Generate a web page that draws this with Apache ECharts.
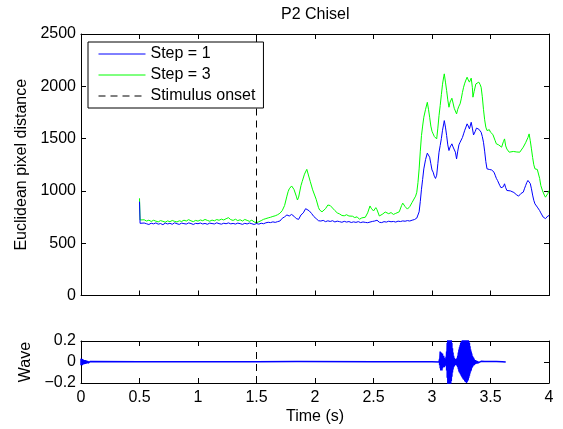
<!DOCTYPE html>
<html>
<head>
<meta charset="utf-8">
<script src="https://cdn.jsdelivr.net/npm/echarts@6/dist/echarts.min.js"></script>
<style>html,body{margin:0;padding:0;background:#fff}#c{width:563px;height:429px}</style>
</head>
<body>
<div id="c"></div>
<script>
// ---------- DATA ----------
const xTicks = [0, 0.5, 1, 1.5, 2, 2.5, 3, 3.5, 4];
const distTicks = [0, 500, 1000, 1500, 2000, 2500];
const waveTicks = [-0.2, 0, 0.2];
const stimulusOnset = 1.5;

// Step = 1 (blue): [time (s), distance]
const step1 = [
[0.5,897],[0.505,690],[0.52,684],[0.54,693],[0.56,686],[0.58,679],[0.60,691],[0.62,685],[0.64,694],[0.66,682],[0.68,688],[0.70,677],[0.72,692],[0.74,684],[0.76,690],[0.78,681],[0.80,695],[0.82,686],[0.84,680],[0.86,692],[0.88,687],[0.90,683],[0.92,694],[0.94,688],[0.96,679],[0.98,690],[1.00,686],[1.02,693],[1.04,684],[1.06,689],[1.08,681],[1.10,692],[1.12,688],[1.14,684],[1.16,695],[1.18,687],[1.20,682],[1.22,691],[1.24,686],[1.26,694],[1.28,685],[1.30,689],[1.32,683],[1.34,692],[1.36,687],[1.38,680],[1.40,690],[1.42,684],[1.44,693],[1.46,686],[1.48,679],[1.50,688],[1.52,682],[1.54,691],[1.56,686],[1.58,695],[1.60,700],[1.62,697],[1.64,704],[1.66,699],[1.68,706],[1.70,712],[1.72,738],[1.74,752],[1.76,770],[1.78,760],[1.80,775],[1.82,758],[1.84,735],[1.86,728],[1.88,770],[1.90,790],[1.92,830],[1.93,849],[1.95,810],[1.97,785],[1.99,755],[2.01,735],[2.03,715],[2.05,712],[2.07,718],[2.09,706],[2.11,714],[2.13,708],[2.15,715],[2.17,703],[2.19,711],[2.21,706],[2.23,700],[2.25,709],[2.27,702],[2.29,707],[2.31,698],[2.33,704],[2.35,699],[2.37,706],[2.39,697],[2.41,703],[2.43,699],[2.45,696],[2.47,702],[2.49,708],[2.51,712],[2.53,720],[2.55,700],[2.57,697],[2.59,706],[2.61,702],[2.63,710],[2.65,705],[2.67,708],[2.69,702],[2.71,711],[2.73,707],[2.75,713],[2.77,710],[2.79,716],[2.81,712],[2.83,720],[2.85,726],[2.87,740],[2.88,750],[2.89,800],[2.90,900],[2.91,1016],[2.92,1110],[2.93,1210],[2.945,1300],[2.96,1361],[2.97,1345],[2.98,1322],[2.99,1260],[3.00,1200],[3.01,1179],[3.02,1140],[3.03,1119],[3.04,1150],[3.05,1260],[3.06,1370],[3.07,1434],[3.08,1500],[3.09,1580],[3.10,1640],[3.105,1672],[3.115,1610],[3.125,1529],[3.135,1440],[3.145,1386],[3.155,1420],[3.17,1450],[3.18,1420],[3.19,1402],[3.20,1370],[3.21,1306],[3.22,1380],[3.23,1440],[3.24,1465],[3.25,1480],[3.26,1510],[3.27,1545],[3.28,1580],[3.29,1610],[3.30,1641],[3.31,1620],[3.32,1593],[3.335,1656],[3.345,1600],[3.355,1535],[3.36,1529],[3.37,1570],[3.38,1600],[3.39,1609],[3.40,1590],[3.41,1575],[3.42,1561],[3.43,1520],[3.44,1465],[3.45,1380],[3.46,1280],[3.47,1211],[3.48,1220],[3.49,1205],[3.50,1211],[3.51,1200],[3.52,1190],[3.53,1179],[3.54,1150],[3.55,1120],[3.56,1100],[3.57,1084],[3.58,1050],[3.59,1030],[3.60,1020],[3.61,1040],[3.62,1068],[3.63,1030],[3.64,1004],[3.655,995],[3.67,1000],[3.685,990],[3.70,985],[3.71,975],[3.72,965],[3.73,958],[3.74,950],[3.75,962],[3.76,975],[3.77,985],[3.78,988],[3.79,1020],[3.80,1050],[3.81,1080],[3.82,1100],[3.83,1107],[3.84,1070],[3.85,1020],[3.86,960],[3.87,910],[3.88,876],[3.89,860],[3.90,845],[3.91,830],[3.92,812],[3.93,790],[3.94,770],[3.95,750],[3.96,739],[3.97,735],[3.98,750],[3.99,760],[4.00,764]
];

// Step = 3 (green): [time (s), distance]
const step3 = [
[0.5,929],[0.505,722],[0.52,716],[0.54,724],[0.56,712],[0.58,720],[0.60,708],[0.62,719],[0.64,711],[0.66,704],[0.68,716],[0.70,709],[0.72,701],[0.74,713],[0.76,706],[0.78,717],[0.80,709],[0.82,703],[0.84,714],[0.86,708],[0.88,720],[0.90,712],[0.92,725],[0.94,714],[0.96,706],[0.98,718],[1.00,711],[1.02,722],[1.04,715],[1.06,727],[1.08,718],[1.10,710],[1.12,721],[1.14,714],[1.16,726],[1.18,719],[1.20,730],[1.22,722],[1.24,734],[1.26,744],[1.27,738],[1.28,725],[1.30,718],[1.32,729],[1.34,716],[1.36,724],[1.38,712],[1.40,727],[1.42,718],[1.44,709],[1.46,720],[1.48,703],[1.50,696],[1.52,705],[1.54,716],[1.56,728],[1.58,735],[1.60,742],[1.62,748],[1.64,756],[1.66,762],[1.68,772],[1.70,786],[1.72,812],[1.74,860],[1.76,950],[1.77,992],[1.78,1020],[1.80,1047],[1.82,1015],[1.84,950],[1.85,913],[1.86,940],[1.88,1050],[1.89,1088],[1.91,1160],[1.93,1206],[1.94,1190],[1.96,1088],[1.98,1010],[1.99,992],[2.01,920],[2.03,840],[2.04,817],[2.06,800],[2.07,802],[2.09,830],[2.11,865],[2.12,881],[2.13,860],[2.15,836],[2.17,812],[2.19,790],[2.21,780],[2.23,765],[2.25,762],[2.27,772],[2.29,760],[2.30,767],[2.32,758],[2.34,745],[2.36,752],[2.38,729],[2.40,742],[2.41,755],[2.43,748],[2.45,790],[2.47,856],[2.48,835],[2.50,808],[2.52,840],[2.53,820],[2.55,760],[2.56,755],[2.58,780],[2.60,798],[2.61,800],[2.63,782],[2.65,793],[2.67,775],[2.69,785],[2.70,777],[2.72,800],[2.74,860],[2.75,883],[2.77,850],[2.79,826],[2.81,850],[2.83,890],[2.84,907],[2.86,950],[2.87,987],[2.88,1080],[2.89,1210],[2.90,1380],[2.91,1529],[2.92,1620],[2.93,1704],[2.945,1780],[2.96,1847],[2.97,1780],[2.98,1704],[2.99,1620],[3.00,1570],[3.01,1545],[3.02,1520],[3.04,1497],[3.05,1600],[3.06,1720],[3.07,1816],[3.08,1920],[3.09,2020],[3.10,2090],[3.105,2119],[3.115,2040],[3.125,1959],[3.135,1870],[3.145,1800],[3.155,1850],[3.17,1886],[3.18,1840],[3.19,1790],[3.21,1736],[3.22,1780],[3.23,1810],[3.24,1832],[3.25,1880],[3.26,1940],[3.27,1991],[3.28,2030],[3.29,2060],[3.30,2087],[3.31,2060],[3.32,2040],[3.335,2078],[3.345,1990],[3.35,1896],[3.36,1950],[3.375,2023],[3.39,2030],[3.40,2040],[3.41,2020],[3.42,1991],[3.43,1900],[3.44,1780],[3.45,1680],[3.46,1610],[3.47,1577],[3.48,1570],[3.49,1585],[3.50,1561],[3.51,1550],[3.52,1540],[3.53,1529],[3.54,1480],[3.55,1450],[3.56,1434],[3.57,1440],[3.585,1425],[3.595,1418],[3.61,1470],[3.62,1497],[3.63,1430],[3.64,1400],[3.66,1370],[3.675,1380],[3.695,1377],[3.71,1365],[3.725,1372],[3.74,1354],[3.75,1370],[3.76,1385],[3.78,1418],[3.80,1460],[3.82,1510],[3.83,1545],[3.84,1480],[3.85,1402],[3.86,1320],[3.87,1250],[3.88,1211],[3.90,1205],[3.91,1195],[3.92,1120],[3.93,1052],[3.945,1000],[3.96,960],[3.97,940],[3.98,950],[3.99,975],[4.00,1004]
];

// Audio wave envelope: time (s), upper and lower excursion
const waveTime = [0.000,0.005,0.010,0.015,0.020,0.025,0.030,0.035,0.040,0.045,0.050,0.055,0.060,0.065,0.070,0.075,0.080,0.090,0.5,1.0,1.5,1.84,1.845,1.85,1.855,1.86,1.87,2.5,3.0,3.060,3.065,3.070,3.075,3.080,3.085,3.090,3.095,3.100,3.105,3.110,3.115,3.120,3.125,3.130,3.135,3.140,3.145,3.150,3.155,3.160,3.165,3.170,3.175,3.180,3.185,3.190,3.195,3.200,3.205,3.210,3.215,3.220,3.225,3.230,3.235,3.240,3.245,3.250,3.255,3.260,3.265,3.270,3.275,3.280,3.285,3.290,3.295,3.300,3.305,3.310,3.315,3.320,3.325,3.330,3.335,3.340,3.345,3.350,3.355,3.360,3.370,3.380,3.390,3.400,3.42,3.45,3.50,3.55,3.60,3.63];
const waveHigh = [0.030,0.032,0.028,0.026,0.022,0.020,0.020,0.018,0.017,0.015,0.013,0.012,0.010,0.008,0.007,0.006,0.005,0.002,0.002,0.002,0.002,0.004,0.012,0.015,0.010,0.004,0.002,0.002,0.002,0.000,0.03,0.10,0.07,0.09,0.06,0.08,0.05,0.06,0.04,0.03,0.03,0.05,0.10,0.18,0.24,0.24,0.24,0.24,0.24,0.24,0.22,0.18,0.13,0.09,0.06,0.04,0.03,0.03,0.02,0.03,0.04,0.06,0.09,0.12,0.14,0.16,0.18,0.19,0.20,0.21,0.22,0.23,0.24,0.24,0.24,0.24,0.24,0.24,0.23,0.22,0.20,0.18,0.15,0.12,0.10,0.08,0.06,0.05,0.04,0.03,0.02,0.015,0.010,0.008,0.006,0.005,0.004,0.004,0.003,0.000];
const waveLow  = [-0.030,-0.028,-0.030,-0.024,-0.022,-0.021,-0.019,-0.018,-0.016,-0.015,-0.013,-0.011,-0.010,-0.008,-0.007,-0.006,-0.005,-0.002,-0.002,-0.002,-0.002,-0.004,-0.010,-0.014,-0.010,-0.004,-0.002,-0.002,-0.002,0.000,-0.03,-0.06,-0.08,-0.07,-0.08,-0.06,-0.05,-0.04,-0.05,-0.03,-0.03,-0.04,-0.08,-0.15,-0.22,-0.24,-0.24,-0.24,-0.24,-0.22,-0.18,-0.14,-0.10,-0.07,-0.05,-0.04,-0.03,-0.03,-0.03,-0.02,-0.04,-0.05,-0.07,-0.09,-0.10,-0.11,-0.12,-0.13,-0.14,-0.15,-0.16,-0.17,-0.17,-0.18,-0.19,-0.19,-0.20,-0.19,-0.18,-0.17,-0.15,-0.13,-0.11,-0.09,-0.08,-0.06,-0.05,-0.04,-0.03,-0.03,-0.02,-0.015,-0.010,-0.008,-0.006,-0.005,-0.004,-0.004,-0.003,0.000];

// ---------- CHART ----------
const waveData = [];
for (let i = 0; i < waveTime.length; i++) {
  waveData.push([waveTime[i], waveHigh[i]]);
  waveData.push([waveTime[i], waveLow[i]]);
}

const FONT = 'Liberation Sans';
const FS = 16;
const black = '#000';

function xAx(gridIndex, position, showLabels, name) {
  return {
    type: 'value', gridIndex, position, min: xTicks[0], max: xTicks[xTicks.length-1], interval: 0.5,
    axisLine: { show: true, onZero: false, lineStyle: { color: black, width: 1 } },
    axisTick: { show: true, inside: true, length: 5, lineStyle: { color: black } },
    axisLabel: { show: showLabels, color: black, fontFamily: FONT, fontSize: FS, margin: 7,
      formatter: v => String(v) },
    splitLine: { show: false },
    name: name || '', nameLocation: 'middle', nameGap: 26,
    nameTextStyle: { color: black, fontFamily: FONT, fontSize: FS }
  };
}
function yAx(gridIndex, position, ticks, showLabels, name, nameGap) {
  return {
    type: 'value', gridIndex, position, min: ticks[0], max: ticks[ticks.length-1], interval: ticks[1]-ticks[0],
    axisLine: { show: true, onZero: false, lineStyle: { color: black, width: 1 } },
    axisTick: { show: true, inside: true, length: 5, lineStyle: { color: black } },
    axisLabel: { show: showLabels, color: black, fontFamily: FONT, fontSize: FS, margin: 5,
      formatter: v => { const r = Math.round(v*1000)/1000; return r < 0 ? '\u2212' + Math.abs(r) : String(r); } },
    splitLine: { show: false },
    name: name || '', nameLocation: 'middle', nameGap: nameGap || 0, nameRotate: 90,
    nameTextStyle: { color: black, fontFamily: FONT, fontSize: FS }
  };
}

const chart = echarts.init(document.getElementById('c'), null, { renderer: 'canvas' });
chart.setOption({
  animation: false,
  backgroundColor: '#fff',
  textStyle: { fontFamily: FONT },
  title: { text: 'P2 Chisel', left: 281, top: 7, padding: 0,
    textStyle: { color: black, fontFamily: FONT, fontSize: FS, fontWeight: 'normal' } },
  legend: {
    orient: 'vertical', left: 88, top: 42, padding: [4, 8, 4, 10], itemGap: 5,
    itemWidth: 47, itemHeight: 14, z: 10,
    itemStyle: { opacity: 0 },
    lineStyle: { width: 1 },
    backgroundColor: '#fff', borderColor: black, borderWidth: 1, borderRadius: 0,
    textStyle: { color: black, fontFamily: FONT, fontSize: FS },
    data: ['Step = 1', 'Step = 3', 'Stimulus onset']
  },
  grid: [
    { left: 81, top: 34, width: 468, height: 261.5, containLabel: false },
    { left: 81, top: 341, width: 468, height: 42, containLabel: false }
  ],
  xAxis: [
    xAx(0, 'bottom', false),
    xAx(0, 'top', false),
    xAx(1, 'bottom', true, 'Time (s)'),
    xAx(1, 'top', false)
  ],
  yAxis: [
    yAx(0, 'left', distTicks, true, 'Euclidean pixel distance', 50),
    yAx(0, 'right', distTicks, false),
    yAx(1, 'left', waveTicks, true, 'Wave', 47),
    yAx(1, 'right', waveTicks, false)
  ],
  series: [
    { name: 'Step = 1', type: 'line', xAxisIndex: 0, yAxisIndex: 0, data: step1, symbol: 'none',
      lineStyle: { color: '#0000ff', width: 1 }, itemStyle: { color: '#0000ff' }, z: 3 },
    { name: 'Step = 3', type: 'line', xAxisIndex: 0, yAxisIndex: 0, data: step3, symbol: 'none',
      lineStyle: { color: '#00ff00', width: 1 }, itemStyle: { color: '#00ff00' }, z: 2 },
    { name: 'Stimulus onset', type: 'line', xAxisIndex: 0, yAxisIndex: 0,
      data: [[stimulusOnset, distTicks[0]], [stimulusOnset, distTicks[distTicks.length-1]]], symbol: 'none',
      lineStyle: { color: black, width: 1, type: [7, 5] }, itemStyle: { color: black }, z: 2 },
    { name: 'Wave', type: 'line', xAxisIndex: 2, yAxisIndex: 2, data: waveData, symbol: 'none', clip: true,
      lineStyle: { color: '#0000ff', width: 1.5 }, itemStyle: { color: '#0000ff' }, z: 3 },
    { name: 'onsetWave', type: 'line', xAxisIndex: 2, yAxisIndex: 2,
      data: [[stimulusOnset, waveTicks[0]], [stimulusOnset, waveTicks[waveTicks.length-1]]], symbol: 'none',
      lineStyle: { color: black, width: 1, type: [7, 5] }, z: 2 }
  ]
});
</script>
</body>
</html>
